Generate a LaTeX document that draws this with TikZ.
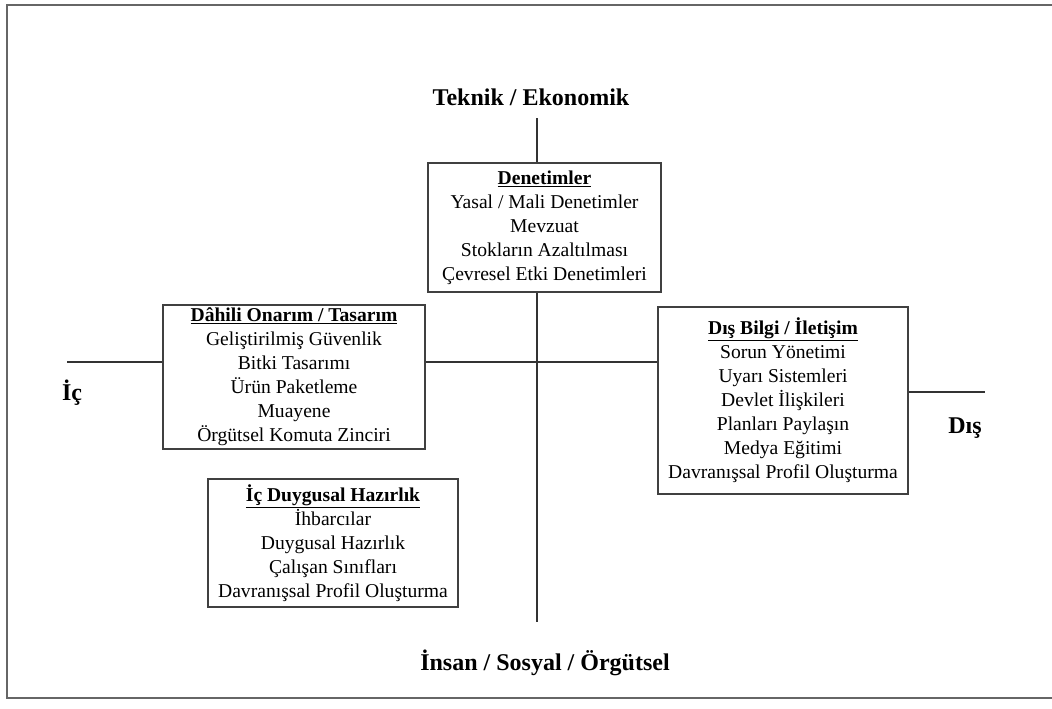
\documentclass[tikz,border=0pt]{standalone}
\usepackage{fontspec}
\setmainfont{Liberation Serif}
\begin{document}
\begin{tikzpicture}[x=1pt,y=-1pt,
  frame/.style={draw=black!60,line width=2pt},
  axis/.style={draw=black!80,line width=1.6pt},
  box/.style={draw=black!75,line width=2pt,align=center,inner sep=0pt,
    font=\fontsize{19.6}{24}\selectfont},
  axlabel/.style={font=\fontsize{24}{28}\selectfont\bfseries,anchor=base,inner sep=0pt}]
\useasboundingbox (0,0) rectangle (1052,709);
% outer frame
\draw[frame] (1052,5) -- (7,5) -- (7,698) -- (1052,698);
% boxes
\node[box,minimum width=233pt,minimum height=129pt] (den) at (544.5,227.5)
  {\textbf{\underline{Denetimler}}\\Yasal / Mali Denetimler\\Mevzuat\\Stokların Azaltılması\\Çevresel Etki Denetimleri};
\node[box,minimum width=262pt,minimum height=144pt] (dah) at (294,377)
  {\textbf{\underline{Dâhili Onarım / Tasarım}}\\Geliştirilmiş Güvenlik\\Bitki Tasarımı\\Ürün Paketleme\\Muayene\\Örgütsel Komuta Zinciri};
\node[box,minimum width=250pt,minimum height=187pt] (dis) at (783,400.5)
  {\textbf{\underline{Dış Bilgi / İletişim}}\\Sorun Yönetimi\\Uyarı Sistemleri\\Devlet İlişkileri\\Planları Paylaşın\\Medya Eğitimi\\Davranışsal Profil Oluşturma};
\node[box,minimum width=250pt,minimum height=128pt] (duy) at (333,543)
  {\textbf{\underline{İç Duygusal Hazırlık}}\\İhbarcılar\\Duygusal Hazırlık\\Çalışan Sınıfları\\Davranışsal Profil Oluşturma};
% axis ends
\coordinate (topEnd) at (537,118);
\coordinate (botEnd) at (537,622);
\coordinate (leftEnd) at (67,362);
\coordinate (rightEnd) at (985,392);
% axes
\draw[axis] (topEnd) -- (topEnd |- den.north);
\draw[axis] (topEnd |- den.south) -- (botEnd);
\draw[axis] (leftEnd) -- (leftEnd -| dah.west);
\draw[axis] (dah.east |- leftEnd) -- (dis.west |- leftEnd);
\draw[axis] (dis.east |- rightEnd) -- (rightEnd);
% axis labels
\node[axlabel] (tek) at (531,105) {Teknik / Ekonomik};
\node[axlabel] (ins) at (545,670) {İnsan / Sosyal / Örgütsel};
\node[axlabel] (ic) at (72,400) {İç};
\node[axlabel] (dsl) at (965,433) {Dış};
\end{tikzpicture}
\end{document}
